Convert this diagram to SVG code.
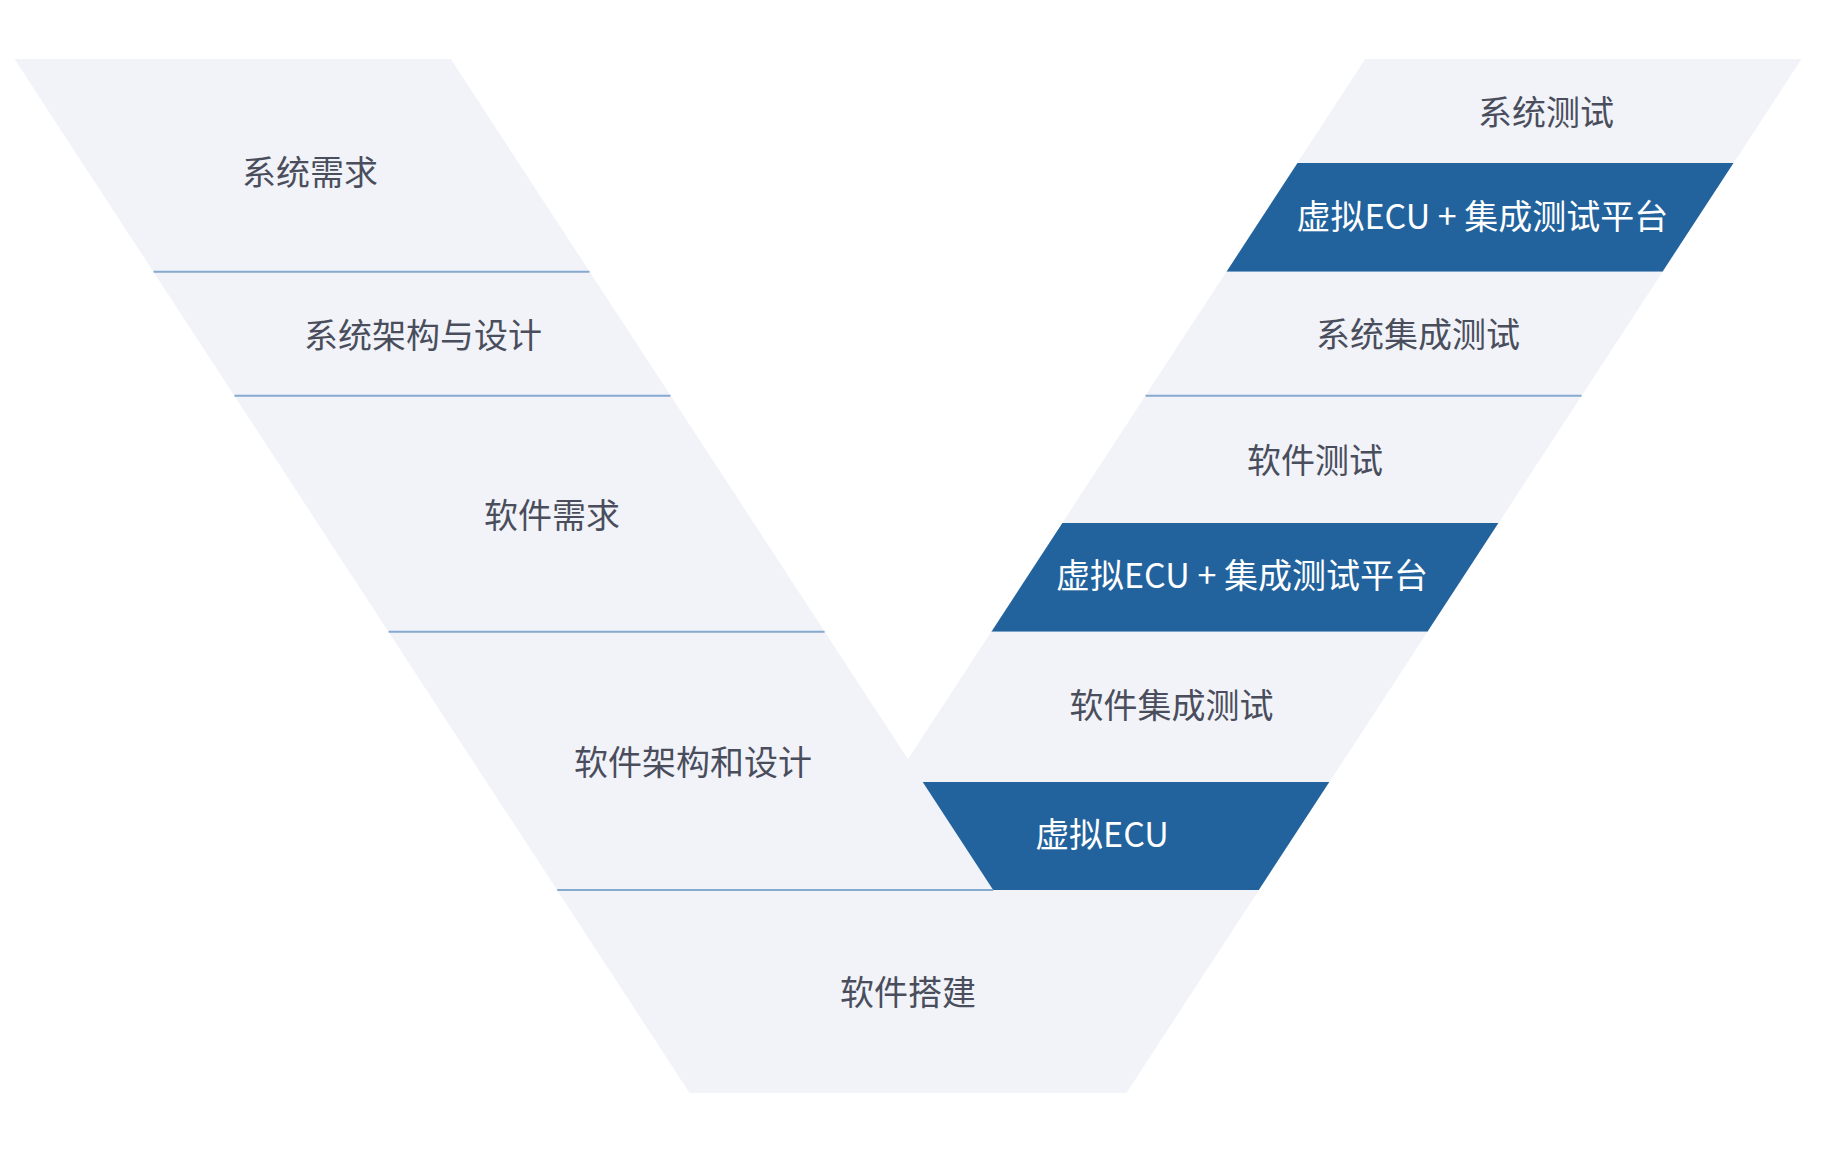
<svg xmlns="http://www.w3.org/2000/svg" width="1838" height="1162" viewBox="0 0 1838 1162">
  <style>
    .seg { fill: #f1f3f9; }
    .dark { fill: #22639d; }
    .lbl { font-family: "Noto Sans CJK SC", "Noto Sans", sans-serif; font-size: 34px; fill: #4a4e5c; text-anchor: middle; dominant-baseline: central; }
    .lbl-w { font-family: "Noto Sans CJK SC", "Noto Sans", sans-serif; font-size: 34px; fill: #ffffff; text-anchor: middle; dominant-baseline: central; }
    .sep { stroke: #86a9cf; stroke-width: 2; fill: none; }
  </style>
  <rect width="1838" height="1162" fill="#ffffff"/>
  <polygon class="seg" points="14.6,59 450.6,59 908,759.5 1365.4,59 1801.4,59 1126.4,1092.7 689.6,1092.7"/>

  <g id="sys-req">
    <polygon class="seg" points="14.6,59 450.6,59 589.5,271.7 153.5,271.7"/>
    <text class="lbl" x="310" y="170">系统需求</text>
  </g>
  <g id="sys-arch">
    <polygon class="seg" points="153.5,271.7 589.5,271.7 670.5,395.7 234.5,395.7"/>
    <text class="lbl" x="423" y="333">系统架构与设计</text>
  </g>
  <g id="sw-req">
    <polygon class="seg" points="234.5,395.7 670.5,395.7 824.6,631.7 388.6,631.7"/>
    <text class="lbl" x="552" y="513">软件需求</text>
  </g>
  <g id="sw-arch">
    <polygon class="seg" points="388.6,631.7 824.6,631.7 993.2,890 557.2,890"/>
    <text class="lbl" x="693" y="760">软件架构和设计</text>
  </g>
  <g id="sw-build">
    <polygon class="seg" points="557.2,890 1258.8,890 1126.4,1092.7 689.6,1092.7"/>
    <text class="lbl" x="908" y="990">软件搭建</text>
  </g>

  <g id="sys-test">
    <polygon class="seg" points="1365.4,59 1801.4,59 1733.5,163 1297.5,163"/>
    <text class="lbl" x="1546" y="110">系统测试</text>
  </g>
  <g id="vecu-platform-1">
    <polygon class="dark" points="1297.5,163 1733.5,163 1662.5,271.7 1226.5,271.7"/>
    <text class="lbl-w" x="1482.4" y="214.5">虚拟ECU + 集成测试平台</text>
  </g>
  <g id="sys-int-test">
    <polygon class="seg" points="1226.5,271.7 1662.5,271.7 1581.5,395.7 1145.5,395.7"/>
    <text class="lbl" x="1418" y="332">系统集成测试</text>
  </g>
  <g id="sw-test">
    <polygon class="seg" points="1145.5,395.7 1581.5,395.7 1498.4,523 1062.4,523"/>
    <text class="lbl" x="1315" y="458.5">软件测试</text>
  </g>
  <g id="vecu-platform-2">
    <polygon class="dark" points="1062.4,523 1498.4,523 1427.4,631.7 991.4,631.7"/>
    <text class="lbl-w" x="1242" y="573">虚拟ECU + 集成测试平台</text>
  </g>
  <g id="sw-int-test">
    <polygon class="seg" points="991.4,631.7 1427.4,631.7 1329.3,782 922.7,782 908,759.5"/>
    <text class="lbl" x="1171.5" y="703">软件集成测试</text>
  </g>
  <g id="vecu">
    <polygon class="dark" points="922.7,782 1329.3,782 1258.8,890 993.2,890"/>
    <text class="lbl-w" x="1102" y="832.5">虚拟ECU</text>
  </g>

  <g id="connectors">
    <line class="sep" x1="153.5" y1="271.7" x2="589.5" y2="271.7"/>
    <line class="sep" x1="234.5" y1="395.7" x2="670.5" y2="395.7"/>
    <line class="sep" x1="388.6" y1="631.7" x2="824.6" y2="631.7"/>
    <line class="sep" x1="557.2" y1="890" x2="993.2" y2="890"/>
    <line class="sep" x1="1145.5" y1="395.7" x2="1581.5" y2="395.7"/>
  </g>
</svg>
